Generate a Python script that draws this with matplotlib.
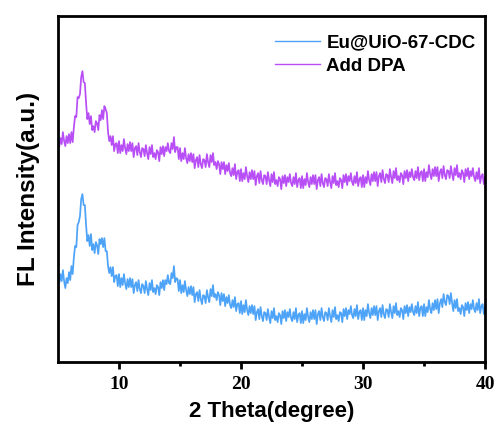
import numpy as np
import matplotlib
matplotlib.use("Agg")
import matplotlib.pyplot as plt

# 2 theta grid: 5.0 .. 40.0, step 0.1
theta_start = 5.0
theta_step = 0.1

# Eu@UiO-67-CDC (arbitrary units), one row per degree
eu_uio = [
    92, 79, 88, 81, 92, 81, 74, 84, 79, 90,
    82, 96, 88, 105, 116, 115, 137, 140, 146, 163,
    168, 157, 157, 137, 121, 127, 116, 128, 112, 118,
    109, 120, 117, 108, 123, 118, 124, 115, 124, 111,
    111, 96, 89, 95, 86, 95, 80, 86, 87, 76,
    88, 75, 84, 77, 88, 79, 73, 83, 75, 84,
    75, 83, 69, 77, 80, 71, 82, 73, 69, 78,
    76, 69, 81, 73, 67, 79, 72, 82, 70, 74,
    68, 77, 75, 67, 80, 74, 82, 72, 82, 78,
    87, 79, 78, 89, 84, 96, 80, 84, 83, 71,
    82, 69, 77, 70, 81, 72, 66, 75, 68, 76,
    67, 75, 60, 68, 70, 61, 72, 63, 58, 67,
    66, 59, 72, 65, 60, 73, 66, 77, 65, 68,
    62, 70, 67, 57, 69, 61, 68, 56, 65, 59,
    67, 57, 54, 62, 55, 65, 51, 58, 59, 49,
    61, 48, 57, 50, 62, 52, 47, 56, 49, 57,
    48, 56, 42, 50, 53, 43, 55, 46, 41, 50,
    49, 42, 53, 45, 39, 51, 44, 54, 42, 46,
    40, 49, 47, 38, 51, 44, 52, 41, 50, 45,
    53, 44, 41, 50, 43, 54, 40, 47, 49, 39,
    51, 39, 48, 42, 54, 45, 40, 50, 43, 52,
    43, 52, 38, 48, 51, 42, 54, 45, 41, 50,
    49, 42, 54, 46, 40, 52, 45, 55, 43, 47,
    41, 50, 49, 40, 53, 46, 54, 43, 52, 48,
    56, 47, 44, 53, 46, 57, 43, 50, 52, 42,
    54, 42, 52, 46, 58, 49, 44, 54, 47, 56,
    47, 56, 42, 51, 54, 45, 57, 48, 44, 53,
    52, 45, 58, 50, 44, 56, 49, 59, 47, 51,
    45, 54, 52, 43, 56, 49, 57, 46, 55, 50,
    58, 50, 47, 56, 49, 60, 46, 54, 56, 46,
    58, 46, 55, 50, 62, 53, 49, 59, 52, 62,
    53, 63, 49, 59, 63, 55, 68, 60, 57, 67,
    66, 58, 69, 59, 51, 62, 54, 63, 51, 54,
    48, 57, 55, 46, 59, 52, 60, 49, 58, 53,
    62, 53, 50, 59, 52, 63, 49, 56, 58, 48,
    56,
]

# Add DPA
add_dpa = [
    227, 215, 224, 218, 230, 221, 216, 226, 219, 228,
    219, 230, 220, 235, 246, 245, 265, 264, 268, 285,
    291, 280, 279, 259, 243, 249, 238, 246, 232, 236,
    230, 241, 239, 232, 247, 242, 252, 243, 256, 253,
    249, 230, 221, 226, 217, 226, 211, 218, 219, 209,
    221, 209, 217, 211, 223, 214, 208, 218, 211, 220,
    211, 219, 205, 214, 216, 207, 219, 210, 205, 214,
    213, 206, 217, 209, 203, 215, 208, 217, 205, 209,
    203, 212, 210, 201, 215, 208, 216, 206, 215, 211,
    219, 211, 209, 219, 213, 225, 210, 215, 215, 203,
    214, 201, 209, 203, 214, 204, 199, 208, 201, 209,
    200, 208, 194, 202, 205, 195, 207, 198, 194, 203,
    202, 195, 208, 200, 195, 207, 200, 209, 197, 200,
    193, 201, 198, 188, 200, 193, 200, 188, 197, 191,
    199, 189, 186, 194, 187, 198, 183, 190, 192, 181,
    193, 181, 189, 183, 195, 186, 180, 190, 183, 192,
    183, 191, 177, 186, 189, 179, 191, 182, 178, 187,
    186, 178, 190, 182, 176, 188, 180, 190, 178, 182,
    176, 185, 183, 173, 186, 179, 187, 176, 185, 180,
    188, 179, 176, 185, 178, 189, 175, 182, 184, 174,
    186, 174, 183, 177, 189, 180, 175, 185, 178, 187,
    178, 187, 173, 182, 185, 176, 188, 179, 175, 184,
    183, 176, 188, 180, 174, 186, 179, 189, 177, 181,
    175, 184, 182, 174, 187, 180, 188, 177, 186, 181,
    189, 180, 177, 186, 179, 190, 176, 183, 185, 175,
    187, 175, 185, 179, 191, 182, 177, 188, 181, 190,
    181, 190, 176, 186, 189, 180, 192, 183, 179, 188,
    187, 180, 193, 185, 179, 191, 184, 194, 182, 186,
    180, 189, 187, 178, 191, 184, 192, 181, 190, 185,
    193, 185, 182, 191, 184, 195, 182, 189, 191, 181,
    193, 181, 190, 185, 197, 188, 183, 193, 186, 195,
    186, 195, 181, 190, 193, 184, 196, 187, 183, 192,
    191, 184, 196, 188, 182, 194, 187, 197, 185, 189,
    183, 192, 189, 180, 193, 186, 194, 183, 191, 186,
    194, 185, 181, 190, 183, 194, 179, 186, 188, 178,
    185,
]

theta = theta_start + theta_step * np.arange(len(eu_uio))

fig = plt.figure(figsize=(4.98, 4.24), dpi=100)
ax = fig.add_axes([0.1165, 0.146, 0.8575, 0.816])

ax.plot(theta, eu_uio, color="#4da3f7", lw=1.25, label="Eu@UiO-67-CDC")
ax.plot(theta, add_dpa, color="#b84ef5", lw=1.25, label="Add DPA")

ax.set_xlim(5, 40)
ax.set_ylim(0, 346)
ax.set_xticks([10, 20, 30, 40])
ax.set_xticks([15, 25, 35], minor=True)
ax.set_yticks([])
for s in ax.spines.values():
    s.set_linewidth(2)
ax.tick_params(axis="x", which="major", direction="out", length=5, width=2, pad=5)
ax.tick_params(axis="x", which="minor", direction="out", length=3, width=2)
for t in ax.get_xticklabels():
    t.set_fontfamily("Liberation Serif")
    t.set_fontweight("bold")
    t.set_fontsize(14)

ax.set_xlabel("2 Theta(degree)", fontfamily="Liberation Sans", fontweight="bold", fontsize=16, labelpad=6)
ax.set_ylabel("FL Intensity(a.u.)", fontfamily="Liberation Sans", fontweight="bold", fontsize=17.5, labelpad=13)

leg = ax.legend(loc="upper right", frameon=False, handlelength=2.4, handletextpad=0.35,
                labelspacing=0.35, borderaxespad=0.1, bbox_to_anchor=(1.0, 0.975),
                prop={"family": "Liberation Sans", "weight": "bold", "size": 13.5})
for h in leg.get_lines():
    h.set_linewidth(1.0)

plt.savefig("out.png")
